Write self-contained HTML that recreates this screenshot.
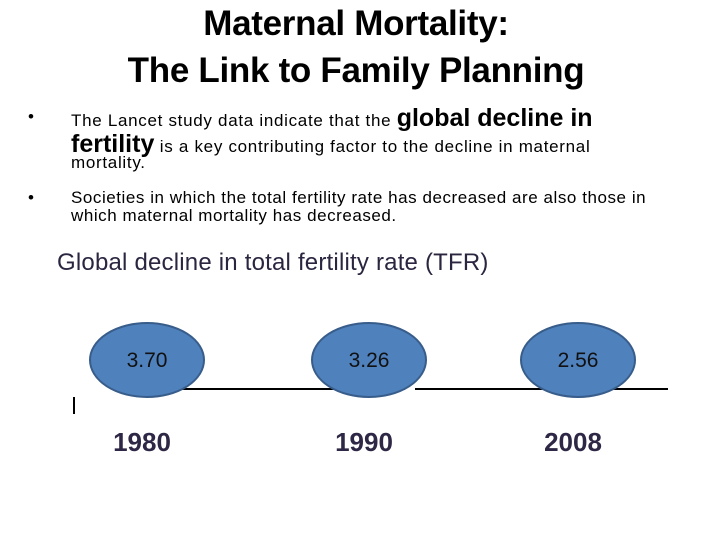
<!DOCTYPE html>
<html><head><meta charset="utf-8"><style>
body{margin:0;width:720px;height:540px;background:#fff;font-family:"Liberation Sans",sans-serif;position:relative;overflow:hidden}
.t{position:absolute;color:#000;white-space:nowrap}
.big{font-size:25px;font-weight:bold;letter-spacing:0}
</style></head><body>
<div class="t" style="left:0;width:712px;top:0px;text-align:center;font-size:35px;font-weight:bold;line-height:47px;letter-spacing:-0.3px">Maternal Mortality:<br>The Link to Family Planning</div>
<div class="t" style="left:28px;top:103px;font-size:17px;line-height:20px;width:680px">
<span style="position:absolute;left:0;top:4px">•</span>
<div style="margin-left:43px;letter-spacing:0.7px"><div style="height:26px;line-height:30px">The Lancet study data indicate that the <span class="big">global decline in</span></div><div style="height:26px;line-height:30px"><span class="big">fertility</span> is a key contributing factor to the decline in maternal</div><div style="line-height:16px">mortality.</div></div></div>
<div class="t" style="left:28px;top:189px;font-size:17px;line-height:18px;width:680px">
<span style="position:absolute;left:0">•</span>
<div style="margin-left:43px;letter-spacing:0.55px">Societies in which the total fertility rate has decreased are also those in<br>which maternal mortality has decreased.</div></div>
<div class="t" style="left:57px;top:249px;font-size:24px;letter-spacing:0.2px;color:#2b2540">Global decline in total fertility rate (TFR)</div>
<svg width="720" height="540" style="position:absolute;left:0;top:0">
<g id="g"></g>
</svg>
<script>
const years=["1980","1990","2008"];
const tfr=["3.70","3.26","2.56"];
const cx=[147,369,578];
const g=document.getElementById('g');
const ns="http://www.w3.org/2000/svg";
function mk(t,a){const e=document.createElementNS(ns,t);for(const k in a)e.setAttribute(k,a[k]);g.appendChild(e);return e;}
let l=mk('line',{x1:180,y1:389,x2:405,y2:389,stroke:'#000','stroke-width':2});


l=mk('line',{x1:415,y1:389,x2:668,y2:389,stroke:'#000','stroke-width':2});


l=mk('line',{x1:74,y1:397,x2:74,y2:414,stroke:'#000','stroke-width':2});


years.forEach((y,i)=>{
 const e=mk('ellipse',{cx:cx[i],cy:360,rx:57,ry:37,fill:'#4f81bd',stroke:'#385d8a','stroke-width':2});
 
 
 const t=mk('text',{x:cx[i],y:367,'text-anchor':'middle','font-size':21,fill:'#111','font-family':'Liberation Sans, sans-serif'});
 t.textContent=tfr[i];
 
 
 const yl=mk('text',{x:cx[i]-5,y:451,'text-anchor':'middle','font-size':26,'font-weight':'bold',fill:'#2e2745','font-family':'Liberation Sans, sans-serif'});
 yl.textContent=y;
 
 
});
</script>
</body></html>
